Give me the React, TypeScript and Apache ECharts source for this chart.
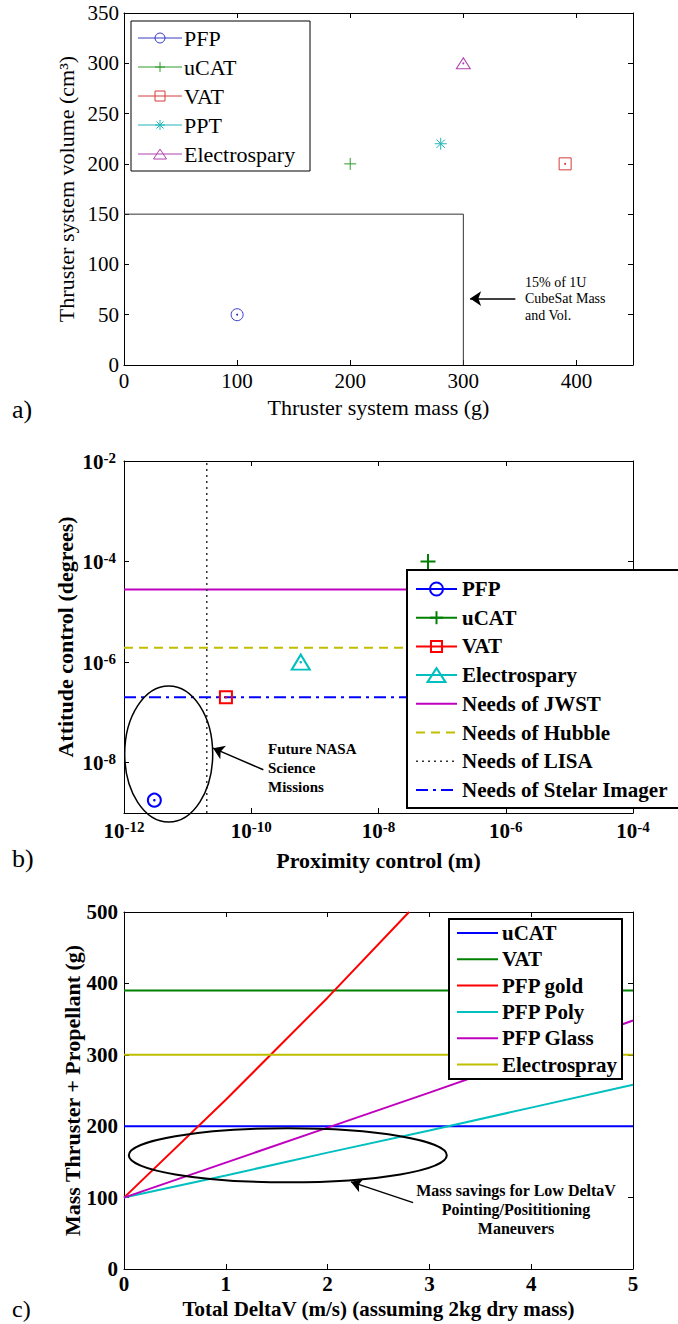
import React, { useEffect, useRef } from 'react';
import * as echarts from 'echarts';

const FONT = 'Liberation Serif, Times New Roman, Times, serif';

// ---------------- Panel a data ----------------
const aNames = ['PFP', 'uCAT', 'VAT', 'PPT', 'Electrospary'];
const aMass = [100, 200, 390, 280, 300];
const aVolume = [50, 200, 200, 220, 300];
const aColors = ['#3a3ac8', '#2e9a2e', '#d83a3a', '#22b5b5', '#b040b0'];
const aMarkers = ['circle', 'plus', 'rect', 'asterisk', 'triangle'];
const aLimitMass = [0, 300, 300];
const aLimitVolume = [150, 150, 0];
const aXMax = 450;
const aXStep = 100;
const aYMax = 350;
const aYStep = 50;

// ---------------- Panel b data ----------------
const bNames = ['PFP', 'uCAT', 'VAT', 'Electrospary'];
const bProximity = [3e-12, 6e-8, 4e-11, 6e-10];
const bAttitude = [1.8e-9, 1e-4, 2e-7, 1e-6];
const bColors = ['#0000ff', '#008000', '#ff0000', '#00bfbf'];
const bMarkers = ['circle', 'plus', 'rect', 'triangle'];
const bNeedNames = ['Needs of JWST', 'Needs of Hubble', 'Needs of LISA', 'Needs of Stelar Imager'];
const bNeedColors = ['#bf00bf', '#bfbf00', '#333333', '#0000ff'];
const bNeedDash: any[] = ['solid', [9, 6], [2, 4], [12, 5, 3, 5]];
const needJWSTAttitude = 2.78e-5;
const needHubbleAttitude = 1.94e-6;
const needLISAProximity = 2e-11;
const needStellarAttitude = 2e-7;
const bProximityRange = [1e-12, 1e-4];
const bAttitudeRange = [1e-9, 1e-2];
const bXLabelExps = [-12, -10, -8, -6, -4];
const bYLabelExps = [-8, -6, -4, -2];

// ---------------- Panel c data ----------------
const cNames = ['uCAT', 'VAT', 'PFP gold', 'PFP Poly', 'PFP Glass', 'Electrospray'];
const cColors = ['#0000ff', '#008000', '#ff0000', '#00bfbf', '#bf00bf', '#bfbf00'];
const cDeltaV = [0, 1, 2, 3, 4, 5];
const cGoldDeltaV = [0, 1, 2, 2.8];
const cUCAT = [200, 200, 200, 200, 200, 200];
const cVAT = [390, 390, 390, 390, 390, 390];
const cPFPGold = [100, 237, 380, 500];
const cPFPPoly = [100, 131, 163, 194, 226, 258];
const cPFPGlass = [100, 149, 198, 247, 297, 348];
const cElectrospray = [300, 300, 300, 300, 300, 300];

const lg = Math.log10;
const PLUS = 'path://M5,0L5,10M0,5L10,5';
const AST = 'path://M5,0L5,10M0,5L10,5M1.5,1.5L8.5,8.5M1.5,8.5L8.5,1.5';
const symFor = (m: string) => (m === 'plus' ? PLUS : m === 'asterisk' ? AST : m);

function markerElems(kind: string, cx: number, cy: number, w: number, h: number, color: string, lw: number) {
  const style = { fill: 'none', stroke: color, lineWidth: lw };
  const z = 101;
  if (kind === 'circle') return [{ type: 'ellipse', z, shape: { cx, cy, rx: w / 2, ry: h / 2 }, style }];
  if (kind === 'rect') return [{ type: 'rect', z, shape: { x: cx - w / 2, y: cy - h / 2, width: w, height: h }, style }];
  if (kind === 'triangle')
    return [{ type: 'polygon', z, shape: { points: [[cx, cy - h / 2], [cx + w / 2, cy + h / 2], [cx - w / 2, cy + h / 2]] }, style }];
  const out: any[] = [
    { type: 'line', z, shape: { x1: cx - w / 2, y1: cy, x2: cx + w / 2, y2: cy }, style },
    { type: 'line', z, shape: { x1: cx, y1: cy - h / 2, x2: cx, y2: cy + h / 2 }, style },
  ];
  if (kind === 'asterisk') {
    const d = w * 0.35;
    out.push({ type: 'line', z, shape: { x1: cx - d, y1: cy - d, x2: cx + d, y2: cy + d }, style });
    out.push({ type: 'line', z, shape: { x1: cx - d, y1: cy + d, x2: cx + d, y2: cy - d }, style });
  }
  return out;
}

type Entry = { name: string; color: string; marker?: string; mw?: number; mh?: number; dash?: any; lw: number };
function legendElems(cfg: {
  left: number; top: number; width: number; height: number; boxLw: number;
  firstY: number; rowH: number; x0: number; x1: number; textX: number;
  fontSize: number; fontWeight: string; entries: Entry[];
}) {
  const els: any[] = [
    { type: 'rect', z: 100, shape: { x: cfg.left, y: cfg.top, width: cfg.width, height: cfg.height },
      style: { fill: '#fff', stroke: '#000', lineWidth: cfg.boxLw } },
  ];
  cfg.entries.forEach((e, i) => {
    const y = cfg.firstY + i * cfg.rowH;
    const st: any = { stroke: e.color, lineWidth: e.lw, fill: 'none' };
    if (e.dash && e.dash !== 'solid') st.lineDash = e.dash;
    els.push({ type: 'line', z: 101, shape: { x1: cfg.x0, y1: y, x2: cfg.x1, y2: y }, style: st });
    if (e.marker) els.push(...markerElems(e.marker, (cfg.x0 + cfg.x1) / 2, y, e.mw || 10, e.mh || 10, e.color, e.lw));
    els.push({ type: 'text', z: 101, x: cfg.textX, y,
      style: { text: e.name, fontFamily: FONT, fontSize: cfg.fontSize, fontWeight: cfg.fontWeight, fill: '#000', align: 'left', verticalAlign: 'middle' } });
  });
  return els;
}

const tick = { show: true, inside: true, length: 5, lineStyle: { color: '#000', width: 1 } };
const line = { show: true, onZero: false, lineStyle: { color: '#000', width: 1 } };
const arrowLine = (coords: number[][]) => ({
  silent: true, symbol: ['none', 'arrow'], symbolSize: 11, label: { show: false },
  lineStyle: { color: '#000', width: 1.5, type: 'solid' },
  emphasis: { disabled: true },
  data: [[{ coord: coords[0] }, { coord: coords[1] }]],
});

function optionA(): any {
  const series: any[] = aNames.map((n, i) => ({
    type: 'scatter', name: n, data: [[aMass[i], aVolume[i]]], symbol: symFor(aMarkers[i]),
    symbolSize: aMarkers[i] === 'triangle' ? [14, 11] : 12, z: 5,
    itemStyle: { color: 'transparent', borderColor: aColors[i], borderWidth: 1, opacity: 1 },
  }));
  series.push({
    type: 'scatter', name: 'dots', symbol: 'circle', symbolSize: 2, z: 6,
    data: aNames.map((n, i) => ({ value: [aMass[i], aVolume[i]], itemStyle: { color: aColors[i], opacity: 1 } }))
      .filter((_, i) => ['circle', 'rect', 'triangle'].includes(aMarkers[i])),
  });
  series.push({
    type: 'line', name: 'limit', symbol: 'none', data: aLimitMass.map((m, i) => [m, aLimitVolume[i]]),
    lineStyle: { color: '#333', width: 1 }, z: 3,
    markLine: arrowLine([[346, 66], [306, 66]]),
  });
  const legend = legendElems({
    left: 131, top: 21, width: 179, height: 150, boxLw: 1, firstY: 38, rowH: 29,
    x0: 138, x1: 182, textX: 184, fontSize: 22, fontWeight: 'normal',
    entries: aNames.map((n, i) => ({ name: n, color: aColors[i], marker: aMarkers[i], mw: aMarkers[i] === 'triangle' ? 13 : 10, mh: 10, lw: 1 })),
  });
  const lbl = { fontFamily: FONT, fontSize: 21, color: '#000', fontWeight: 'normal' };
  const nm = { fontFamily: FONT, fontSize: 22, color: '#000', fontWeight: 'normal' };
  return {
    animation: false,
    textStyle: { fontFamily: FONT },
    grid: { left: 124, top: 13, width: 509, height: 352 },
    xAxis: [
      { type: 'value', min: 0, max: aXMax, interval: aXStep, position: 'bottom', axisLine: line, axisTick: tick, splitLine: { show: false },
        axisLabel: { ...lbl, margin: 5, showMaxLabel: false },
        name: 'Thruster system mass (g)', nameLocation: 'middle', nameGap: 31, nameMoveOverlap: false, nameTextStyle: nm },
      { type: 'value', min: 0, max: aXMax, interval: aXStep, position: 'top', axisLine: line, axisTick: tick, splitLine: { show: false }, axisLabel: { show: false } },
    ],
    yAxis: [
      { type: 'value', min: 0, max: aYMax, interval: aYStep, position: 'left', axisLine: line, axisTick: tick, splitLine: { show: false },
        axisLabel: { ...lbl, margin: 5 },
        name: 'Thruster system volume (cm³)', nameLocation: 'middle', nameGap: 47, nameMoveOverlap: false, nameTextStyle: nm },
      { type: 'value', min: 0, max: aYMax, interval: aYStep, position: 'right', axisLine: line, axisTick: tick, splitLine: { show: false }, axisLabel: { show: false } },
    ],
    series,
    graphic: {
      elements: [
        ...legend,
        { type: 'text', z: 101, x: 525, y: 274, style: { text: '15% of 1U\nCubeSat Mass\nand Vol.', fontFamily: FONT, fontSize: 14, lineHeight: 16.5, fill: '#000', align: 'left', verticalAlign: 'top' } },
        { type: 'text', z: 101, x: 12, y: 409, style: { text: 'a)', fontFamily: FONT, fontSize: 26, fill: '#000', align: 'left', verticalAlign: 'middle' } },
      ],
    },
  };
}

const supRich = {
  b: { fontFamily: FONT, fontSize: 21, fontWeight: 'bold', color: '#000', lineHeight: 22, verticalAlign: 'bottom' },
  s: { fontFamily: FONT, fontSize: 15, fontWeight: 'bold', color: '#000', lineHeight: 16, verticalAlign: 'top', padding: [0, 0, 12, 0] },
};
const supFmt = (v: number) => `{b|10}{s|${Math.round(v)}}`;

function optionB(): any {
  const xMin = lg(bProximityRange[0]);
  const xMax = lg(bProximityRange[1]);
  const yMin = lg(bAttitudeRange[0]);
  const yMax = lg(bAttitudeRange[1]);
  const sizes: any = { circle: 13, rect: 12, plus: 15, triangle: [18, 15] };
  const series: any[] = [];
  const needData = [
    [[xMin, lg(needJWSTAttitude)], [xMax, lg(needJWSTAttitude)]],
    [[xMin, lg(needHubbleAttitude)], [xMax, lg(needHubbleAttitude)]],
    [[lg(needLISAProximity), yMin], [lg(needLISAProximity), yMax]],
    [[xMin, lg(needStellarAttitude)], [xMax, lg(needStellarAttitude)]],
  ];
  bNeedNames.forEach((n, i) => {
    series.push({
      type: 'line', name: n, symbol: 'none', data: needData[i], z: 3,
      lineStyle: { color: bNeedColors[i], width: i === 2 ? 1.5 : 2, type: bNeedDash[i] },
      ...(i === 2 ? { markLine: arrowLine([[-9.81, -8.14], [-10.6, -7.71]]) } : {}),
    });
  });
  bNames.forEach((n, i) => {
    series.push({
      type: 'scatter', name: n, data: [[lg(bProximity[i]), lg(bAttitude[i])]], symbol: symFor(bMarkers[i]),
      symbolSize: sizes[bMarkers[i]], z: 5,
      itemStyle: { color: 'transparent', borderColor: bColors[i], borderWidth: 2, opacity: 1 },
    });
  });
  series.push({
    type: 'scatter', name: 'dots', symbol: 'circle', symbolSize: 2.5, z: 6,
    data: bNames.map((n, i) => ({ value: [lg(bProximity[i]), lg(bAttitude[i])], itemStyle: { color: bColors[i], opacity: 1 } }))
      .filter((_, i) => bMarkers[i] !== 'plus'),
  });
  const entries: Entry[] = [
    ...bNames.map((n, i) => ({ name: n, color: bColors[i], marker: bMarkers[i],
      mw: bMarkers[i] === 'triangle' ? 18 : bMarkers[i] === 'rect' ? 11 : 13, mh: bMarkers[i] === 'triangle' ? 14 : bMarkers[i] === 'rect' ? 11 : 13, lw: 2 })),
    ...bNeedNames.map((n, i) => ({ name: n, color: bNeedColors[i], dash: bNeedDash[i], lw: i === 2 ? 1.5 : 2 })),
  ];
  const legend = legendElems({
    left: 407, top: 145, width: 290, height: 238, boxLw: 2, firstY: 164, rowH: 28.7,
    x0: 416, x1: 457, textX: 462, fontSize: 21, fontWeight: 'bold', entries,
  });
  const nm = { fontFamily: FONT, fontSize: 22, fontWeight: 'bold', color: '#000' };
  return {
    animation: false,
    textStyle: { fontFamily: FONT },
    grid: { left: 124, top: 36, width: 509, height: 352 },
    xAxis: [
      { type: 'value', min: xMin, max: xMax, interval: 2, position: 'bottom', axisLine: line, axisTick: tick, splitLine: { show: false },
        axisLabel: { fontFamily: FONT, margin: 6, formatter: supFmt, rich: supRich },
        name: 'Proximity control (m)', nameLocation: 'middle', nameGap: 36, nameMoveOverlap: false, nameTextStyle: nm },
      { type: 'value', min: xMin, max: xMax, interval: 2, position: 'top', axisLine: line, axisTick: tick, splitLine: { show: false }, axisLabel: { show: false } },
    ],
    yAxis: [
      { type: 'value', min: yMin, max: yMax, position: 'left', axisLine: line,
        axisTick: { ...tick, customValues: bYLabelExps }, splitLine: { show: false },
        axisLabel: { fontFamily: FONT, margin: 8, formatter: supFmt, rich: supRich, customValues: bYLabelExps },
        name: 'Attitude control (degrees)', nameLocation: 'middle', nameGap: 48, nameMoveOverlap: false, nameTextStyle: nm },
      { type: 'value', min: yMin, max: yMax, position: 'right', axisLine: line,
        axisTick: { ...tick, customValues: bYLabelExps }, splitLine: { show: false }, axisLabel: { show: false } },
    ],
    series,
    graphic: {
      elements: [
        { type: 'ellipse', z: 99, shape: { cx: 168.7, cy: 329, rx: 44, ry: 68 }, style: { fill: 'none', stroke: '#000', lineWidth: 1.5 } },
        { type: 'text', z: 101, x: 268, y: 314.5, style: { text: 'Future NASA\nScience\nMissions', fontFamily: FONT, fontSize: 15, fontWeight: 'bold', lineHeight: 19, fill: '#000', align: 'left', verticalAlign: 'top' } },
        ...legend,
        { type: 'text', z: 101, x: 12, y: 433, style: { text: 'b)', fontFamily: FONT, fontSize: 26, fill: '#000', align: 'left', verticalAlign: 'middle' } },
      ],
    },
  };
}

function optionC(): any {
  const values = [cUCAT, cVAT, cPFPGold, cPFPPoly, cPFPGlass, cElectrospray];
  const series: any[] = cNames.map((n, i) => {
    const xs = i === 2 ? cGoldDeltaV : cDeltaV;
    return {
      type: 'line', name: n, symbol: 'none', z: 3,
      data: xs.map((x, k) => [x, values[i][k]]),
      lineStyle: { color: cColors[i], width: 2 },
      ...(i === 0 ? { markLine: arrowLine([[2.84, 93], [2.23, 122]]) } : {}),
    };
  });
  const legend = legendElems({
    left: 449, top: 39, width: 173, height: 160, boxLw: 2, firstY: 53, rowH: 26.3,
    x0: 457, x1: 498, textX: 502, fontSize: 21, fontWeight: 'bold',
    entries: cNames.map((n, i) => ({ name: n, color: cColors[i], lw: 2 })),
  });
  const lbl = { fontFamily: FONT, fontSize: 21, fontWeight: 'bold', color: '#000' };
  const nm = { fontFamily: FONT, fontSize: 21, fontWeight: 'bold', color: '#000' };
  return {
    animation: false,
    textStyle: { fontFamily: FONT },
    grid: { left: 124, top: 32, width: 509, height: 359 },
    xAxis: [
      { type: 'value', min: 0, max: 5, interval: 1, position: 'bottom', axisLine: line, axisTick: tick, splitLine: { show: false },
        axisLabel: { ...lbl, margin: 4 },
        name: 'Total DeltaV (m/s) (assuming 2kg dry mass)', nameLocation: 'middle', nameGap: 29, nameMoveOverlap: false, nameTextStyle: nm },
      { type: 'value', min: 0, max: 5, interval: 1, position: 'top', axisLine: line, axisTick: tick, splitLine: { show: false }, axisLabel: { show: false } },
    ],
    yAxis: [
      { type: 'value', min: 0, max: 500, interval: 100, position: 'left', axisLine: line, axisTick: tick, splitLine: { show: false },
        axisLabel: { ...lbl, margin: 6 },
        name: 'Mass Thruster + Propellant (g)', nameLocation: 'middle', nameGap: 41, nameMoveOverlap: false, nameTextStyle: { ...nm, fontSize: 22 } },
      { type: 'value', min: 0, max: 500, interval: 100, position: 'right', axisLine: line, axisTick: tick, splitLine: { show: false }, axisLabel: { show: false } },
    ],
    series,
    graphic: {
      elements: [
        { type: 'ellipse', z: 99, shape: { cx: 287.8, cy: 275.3, rx: 159, ry: 27 }, style: { fill: 'none', stroke: '#000', lineWidth: 2 } },
        { type: 'text', z: 101, x: 516, y: 300.5, style: { text: 'Mass savings for Low DeltaV\nPointing/Posititioning\nManeuvers', fontFamily: FONT, fontSize: 16, fontWeight: 'bold', lineHeight: 19, fill: '#000', align: 'center', verticalAlign: 'top' } },
        ...legend,
        { type: 'text', z: 101, x: 12, y: 429, style: { text: 'c)', fontFamily: FONT, fontSize: 24, fill: '#000', align: 'left', verticalAlign: 'middle' } },
      ],
    },
  };
}

export default function App() {
  const ra = useRef<HTMLDivElement>(null);
  const rb = useRef<HTMLDivElement>(null);
  const rc = useRef<HTMLDivElement>(null);
  useEffect(() => {
    const ca = echarts.init(ra.current!, null, { renderer: 'svg' });
    const cb = echarts.init(rb.current!, null, { renderer: 'svg' });
    const cc = echarts.init(rc.current!, null, { renderer: 'svg' });
    ca.setOption(optionA());
    cb.setOption(optionB());
    cc.setOption(optionC());
    return () => {
      ca.dispose();
      cb.dispose();
      cc.dispose();
    };
  }, []);
  return (
    <div style={{ position: 'absolute', left: 0, top: 0, width: 678, height: 1324, background: '#fff', overflow: 'hidden' }}>
      <div ref={ra} style={{ position: 'absolute', left: 0, top: 0, width: 678, height: 425 }} />
      <div ref={rb} style={{ position: 'absolute', left: 0, top: 425, width: 678, height: 455 }} />
      <div ref={rc} style={{ position: 'absolute', left: 0, top: 880, width: 678, height: 444 }} />
    </div>
  );
}
